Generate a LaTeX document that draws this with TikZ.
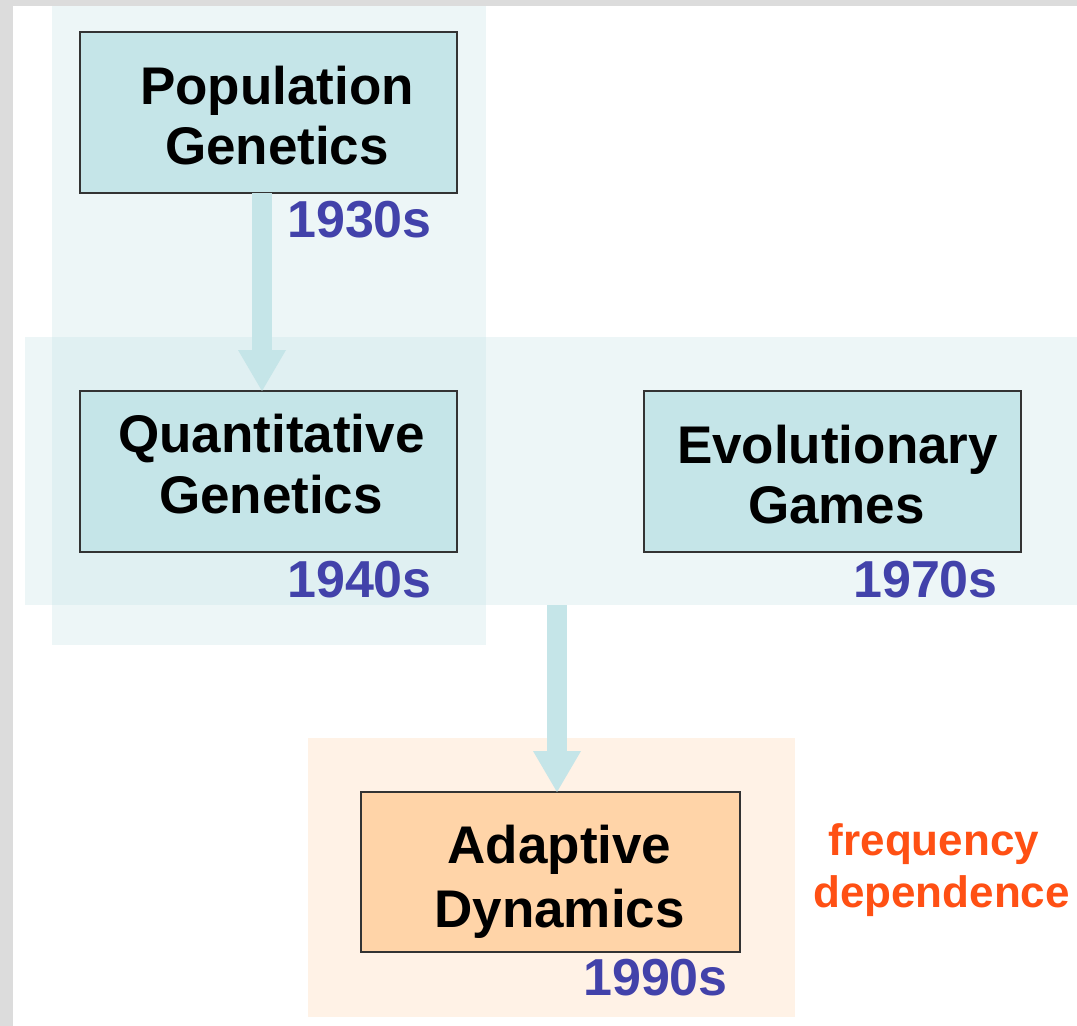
\documentclass[tikz,border=0pt]{standalone}
\usepackage{fontspec}
\setmainfont{Liberation Sans}
\usetikzlibrary{arrows.meta}
\definecolor{frame}{HTML}{DCDCDC}
\definecolor{teal}{HTML}{C5E5E8}
\definecolor{peach}{HTML}{FFD4A8}
\definecolor{peachpanel}{HTML}{FFF2E6}
\definecolor{boxline}{HTML}{333333}
\definecolor{yearcol}{RGB}{66,66,170}
\definecolor{freqcol}{RGB}{255,80,20}
\tikzset{
  panel/.style={rectangle, draw=none, fill=teal, fill opacity=0.31, inner sep=0pt, outer sep=0pt},
  orangepanel/.style={rectangle, draw=none, fill=peachpanel, inner sep=0pt, outer sep=0pt},
  boxnode/.style={rectangle, draw=boxline, line width=2pt, fill=teal, inner sep=0pt, outer sep=0pt},
  adabox/.style={boxnode, fill=peach},
  boxtext/.style={inner sep=0pt, anchor=base, font=\fontsize{53}{60}\selectfont\bfseries, text=black},
  yeartext/.style={inner sep=0pt, anchor=base west, font=\fontsize{52}{60}\selectfont\bfseries, text=yearcol},
  freqtext/.style={inner sep=0pt, anchor=base, font=\fontsize{44}{50}\selectfont\bfseries, text=freqcol},
  bigarrow/.style={draw=teal, line width=20pt, -{Triangle[length=41pt,width=48pt,line width=0pt]}}
}
\begin{document}
\begin{tikzpicture}[x=1pt,y=-1pt]
\useasboundingbox (0,0) rectangle (1077,1026);
\fill[frame] (0,0) rectangle (1077,1026);
\fill[white] (13,6) rectangle (1077,1026);
% panels
\node[panel, minimum width=434pt, minimum height=639pt] (p1) at (269,325.5) {};
\node[panel, minimum width=1052pt, minimum height=268pt] (p2) at (551,471) {};
\node[orangepanel, minimum width=487pt, minimum height=279pt] (p3) at (551.5,877.5) {};
% boxes
\node[boxnode, minimum width=377pt, minimum height=161pt] (pop) at (268.5,112.5) {};
\node[boxnode, minimum width=377pt, minimum height=161pt] (qua) at (268.5,471.5) {};
\node[boxnode, minimum width=377pt, minimum height=161pt] (evo) at (832.5,471.5) {};
\node[adabox, minimum width=379pt, minimum height=160pt] (ada) at (550.5,872) {};
% arrows
\coordinate (a1) at (262,0);
\coordinate (a2) at (557,0);
\draw[bigarrow] (pop.south -| a1) -- (qua.north -| a1);
\draw[bigarrow] (p2.south -| a2) -- (ada.north -| a2);
% texts
\node[boxtext] (popl1) at (277,104) {Population};
\node[boxtext] (popl2) at (277,164) {Genetics};
\node[boxtext] (qual1) at (271.5,452) {Quantitative};
\node[boxtext] (qual2) at (271,513) {Genetics};
\node[boxtext] (evol1) at (837.5,463) {Evolutionary};
\node[boxtext] (evol2) at (836.5,523) {Games};
\node[boxtext] (adal1) at (559.5,863) {Adaptive};
\node[boxtext] (adal2) at (559.5,927) {Dynamics};
\node[yeartext] (y1) at (287,237) {1930s};
\node[yeartext] (y2) at (287,597) {1940s};
\node[yeartext] (y3) at (853,597) {1970s};
\node[yeartext] (y4) at (583,995) {1990s};
\node[freqtext] (f1) at (934,855) {frequency};
\node[freqtext] (f2) at (941.5,907) {dependence};
\end{tikzpicture}
\end{document}
